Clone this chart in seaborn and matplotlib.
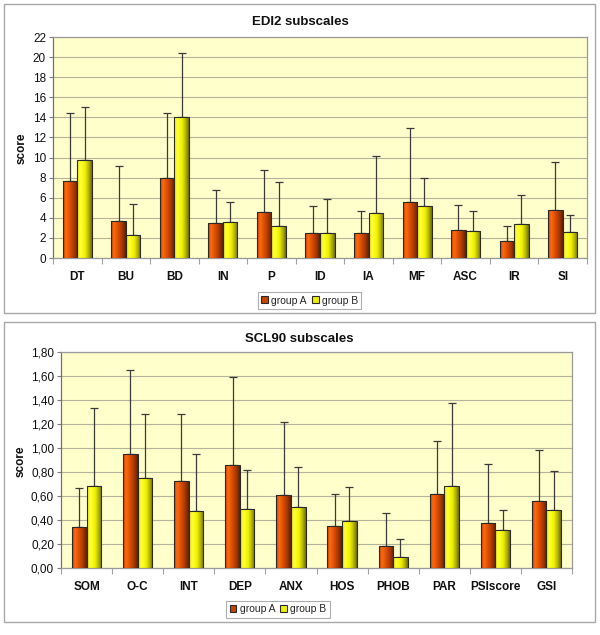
import numpy as np
import pandas as pd
import matplotlib
matplotlib.use("Agg")
import matplotlib.pyplot as plt
import seaborn as sns
from matplotlib.patches import Rectangle
from matplotlib.ticker import FuncFormatter, FixedLocator

# ---------------- data ----------------
edi_cats = ["DT", "BU", "BD", "IN", "P", "ID", "IA", "MF", "ASC", "IR", "SI"]
edi_a_mean = [7.66, 3.68, 7.99, 3.48, 4.61, 2.52, 2.45, 5.54, 2.79, 1.69, 4.74]
edi_a_sd = [6.74, 5.47, 6.41, 3.25, 4.11, 2.62, 2.19, 7.40, 2.45, 1.46, 4.78]
edi_b_mean = [9.72, 2.29, 14.0, 3.55, 3.15, 2.52, 4.44, 5.14, 2.72, 3.42, 2.55]
edi_b_sd = [5.33, 3.11, 6.37, 2.02, 4.38, 3.32, 5.71, 2.79, 1.96, 2.85, 1.70]

scl_cats = ["SOM", "O-C", "INT", "DEP", "ANX", "HOS", "PHOB", "PAR", "PSIscore", "GSI"]
scl_a_mean = [0.339, 0.947, 0.725, 0.858, 0.608, 0.353, 0.186, 0.614, 0.375, 0.556]
scl_a_sd = [0.328, 0.700, 0.561, 0.734, 0.609, 0.261, 0.272, 0.447, 0.492, 0.425]
scl_b_mean = [0.683, 0.750, 0.475, 0.492, 0.511, 0.394, 0.092, 0.683, 0.314, 0.486]
scl_b_sd = [0.650, 0.536, 0.475, 0.325, 0.328, 0.284, 0.150, 0.692, 0.172, 0.322]

groups = ["group A", "group B"]
edi_yticks = list(range(0, 23, 2))
scl_yticks = [0.0, 0.2, 0.4, 0.6, 0.8, 1.0, 1.2, 1.4, 1.6, 1.8]

# ---------------- style ----------------
sns.set_theme(style="white")
plt.rcParams["font.family"] = ["Liberation Sans", "DejaVu Sans"]

W, H = 600, 635
fig = plt.figure(figsize=(6.0, 6.35), dpi=100)
fig.patch.set_facecolor("white")

def px_rect(x0, y0, x1, y1):
    return [x0 / W, 1 - y1 / H, (x1 - x0) / W, (y1 - y0) / H]

# panel borders
for (x0, y0, x1, y1) in [(4, 4, 595, 313), (4, 322, 595, 622)]:
    fig.patches.append(Rectangle((x0 / W, 1 - y1 / H), (x1 - x0) / W, (y1 - y0) / H,
                                 transform=fig.transFigure, fill=False,
                                 edgecolor="#a8a8a8", linewidth=1.0, zorder=0))

colA = ["#c04000", "#ff6a10", "#d84c00", "#983400", "#5e2000"]
colB = ["#ecec30", "#ffff30", "#f0f000", "#b0b000", "#6e6e00"]
grad_cmaps = {
    "group A": matplotlib.colors.LinearSegmentedColormap.from_list(
        "gA", list(zip([0, 0.2, 0.5, 0.8, 1.0], colA))),
    "group B": matplotlib.colors.LinearSegmentedColormap.from_list(
        "gB", list(zip([0, 0.25, 0.55, 0.8, 1.0], colB))),
}


def draw_panel(rect, cats, a_mean, a_sd, b_mean, b_sd, ylim, yticks, fmt,
               barwidth, title, title_xy, ylabel_xy, legend_xy):
    ax = fig.add_axes(px_rect(*rect))
    df = pd.DataFrame({
        "cat": cats * 2,
        "val": list(a_mean) + list(b_mean),
        "group": [groups[0]] * len(cats) + [groups[1]] * len(cats),
    })
    sns.barplot(data=df, x="cat", y="val", hue="group", order=cats,
                hue_order=groups, errorbar=None, width=barwidth,
                palette={"group A": "#e05000", "group B": "#f0f000"},
                edgecolor="#2a2a2a", linewidth=0.8, ax=ax, zorder=3)
    ax.set_facecolor("#ffffcc")
    n = len(cats)
    ax.set_xlim(-0.5, n - 0.5)
    ax.set_ylim(*ylim)

    grad = np.linspace(0, 1, 64).reshape(1, -1)
    sds = [a_sd, b_sd]
    for gi, cont in enumerate(ax.containers[:2]):
        xs, ys = [], []
        for bar in cont:
            x0, w, h = bar.get_x(), bar.get_width(), bar.get_height()
            im = ax.imshow(grad, extent=[x0, x0 + w, 0, h], aspect="auto",
                           cmap=grad_cmaps[groups[gi]], zorder=3.5,
                           interpolation="bilinear")
            im.set_clip_path(bar)
            bar.set_facecolor("none")
            bar.set_zorder(4)
            xs.append(x0 + w / 2)
            ys.append(h)
        ys = np.array(ys)
        ax.errorbar(xs, ys, yerr=[np.zeros_like(ys), np.array(sds[gi])],
                    fmt="none", ecolor="#3a3a3a", elinewidth=0.9,
                    capsize=2.8, capthick=0.9, zorder=2.5)
    ax.set_xlim(-0.5, n - 0.5)
    ax.set_ylim(*ylim)
    ax.set_aspect("auto")

    ax.set_yticks(yticks)
    ax.yaxis.set_major_formatter(FuncFormatter(fmt))
    ax.yaxis.grid(True, color="#b4b49a", linewidth=0.8, zorder=1)
    ax.set_axisbelow(True)
    ax.tick_params(axis="y", which="major", left=True, length=3, width=0.8,
                   color="#808080", labelsize=8.5, pad=2, labelcolor="#111111")
    ax.xaxis.set_minor_locator(FixedLocator(np.arange(-0.5, n, 1.0)))
    ax.tick_params(axis="x", which="major", bottom=False, length=0,
                   labelsize=8.5, pad=9, labelcolor="#111111")
    ax.tick_params(axis="x", which="minor", bottom=True, length=4, width=0.8,
                   color="#a0a0a0")
    for lab in ax.get_xticklabels():
        lab.set_fontweight("bold")
    for s in ["top", "right", "bottom"]:
        ax.spines[s].set_color("#9a9a9a")
        ax.spines[s].set_linewidth(0.9)
    ax.spines["left"].set_color("#707070")
    ax.spines["left"].set_linewidth(0.9)
    ax.set_xlabel("")
    ax.set_ylabel("")
    ax.get_legend().remove()

    fig.text(title_xy[0] / W, 1 - title_xy[1] / H, title, ha="center",
             va="center", fontsize=9.5, fontweight="bold", color="#111111")
    fig.text(ylabel_xy[0] / W, 1 - ylabel_xy[1] / H, "score", ha="center",
             va="center", rotation=90, fontsize=8.5, fontweight="bold",
             color="#111111")

    handles = [Rectangle((0, 0), 1, 1, facecolor="#c84400", edgecolor="#2a2a2a", lw=0.8),
               Rectangle((0, 0), 1, 1, facecolor="#f0f000", edgecolor="#2a2a2a", lw=0.8)]
    leg = fig.legend(handles, groups, loc="center",
                     bbox_to_anchor=(legend_xy[0] / W, 1 - legend_xy[1] / H),
                     ncol=2, fontsize=7.5, frameon=True, fancybox=False,
                     handlelength=0.65, handleheight=0.65, handletextpad=0.3,
                     columnspacing=0.5, borderpad=0.35, borderaxespad=0)
    leg.get_frame().set_edgecolor("#9a9a9a")
    leg.get_frame().set_linewidth(0.8)
    return ax


draw_panel((53, 37, 587, 258), edi_cats, edi_a_mean, edi_a_sd, edi_b_mean, edi_b_sd,
           (0, 22), edi_yticks, lambda v, p: f"{v:.0f}", 0.6,
           "EDI2 subscales", (300, 22), (22, 148), (309.5, 300.5))

draw_panel((61, 352, 572, 568), scl_cats, scl_a_mean, scl_a_sd, scl_b_mean, scl_b_sd,
           (0, 1.8), scl_yticks, lambda v, p: f"{v:.2f}".replace(".", ","), 0.57,
           "SCL90 subscales", (299, 339), (21, 461), (278, 609.5))

fig.savefig("out.png", dpi=100, facecolor="white")
